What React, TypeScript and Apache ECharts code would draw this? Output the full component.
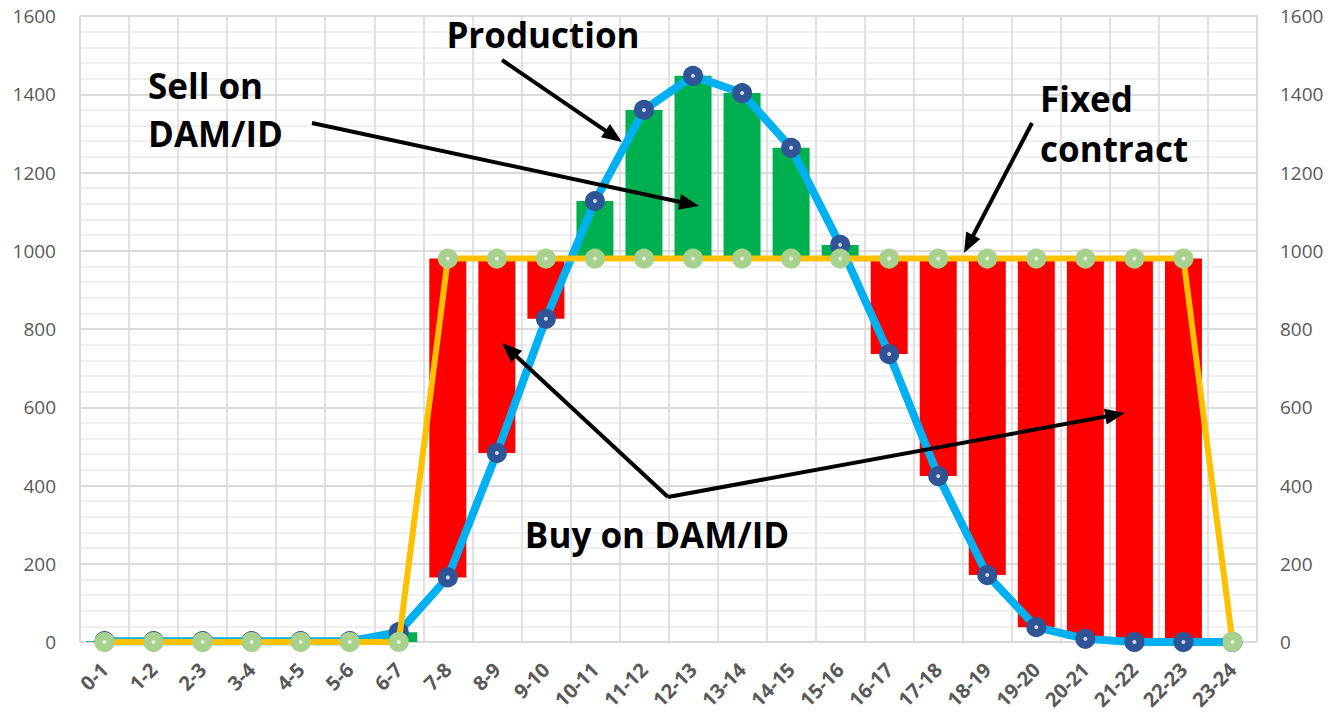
import React, { useEffect, useRef } from "react";
import * as echarts from "echarts";

const hours = [
  "0-1", "1-2", "2-3", "3-4", "4-5", "5-6", "6-7", "7-8", "8-9", "9-10", "10-11", "11-12",
  "12-13", "13-14", "14-15", "15-16", "16-17", "17-18", "18-19", "19-20", "20-21", "21-22", "22-23", "23-24",
];
const production = [2, 2, 2, 2, 2, 2, 25, 165, 483, 826, 1127, 1360, 1447, 1403, 1263, 1015, 736, 424, 171, 38, 8, 0, 0, 0];
const fixedContract = [0, 0, 0, 0, 0, 0, 0, 980, 980, 980, 980, 980, 980, 980, 980, 980, 980, 980, 980, 980, 980, 980, 980, 0];
const yTicks = { min: 0, max: 1600, interval: 200 };

const FONT = "'Open Sans', 'Noto Sans', sans-serif";

function arrow(x1: number, y1: number, x2: number, y2: number) {
  const a = Math.atan2(y2 - y1, x2 - x1);
  const headLen = 20;
  const headW = 8;
  const bx = x2 - headLen * Math.cos(a);
  const by = y2 - headLen * Math.sin(a);
  const px = -Math.sin(a) * headW;
  const py = Math.cos(a) * headW;
  return [
    {
      type: "line",
      shape: { x1, y1, x2: bx + 2 * Math.cos(a), y2: by + 2 * Math.sin(a) },
      style: { stroke: "#000", lineWidth: 4 },
      z: 100,
    },
    {
      type: "polygon",
      shape: { points: [[x2, y2], [bx + px, by + py], [bx - px, by - py]] },
      style: { fill: "#000" },
      z: 100,
    },
  ];
}

function label(text: string, x: number, y: number, align: string = "left") {
  return {
    type: "text",
    x,
    y,
    z: 100,
    style: {
      text,
      fill: "#000",
      font: `bold 35px ${FONT}`,
      textAlign: align,
      textVerticalAlign: "middle",
    },
  };
}

export default function App() {
  const ref = useRef<HTMLDivElement>(null);
  useEffect(() => {
    document.body.style.margin = "0";
    if (!ref.current) return;
    const chart = echarts.init(ref.current, null, { renderer: "svg" });

    const base = production.map((p, i) => Math.min(p, fixedContract[i]));
    const sell = production.map((p, i) => Math.max(p - fixedContract[i], 0));
    const buy = production.map((p, i) => Math.max(fixedContract[i] - p, 0));

    const yAxisCommon = {
      type: "value",
      min: yTicks.min,
      max: yTicks.max,
      interval: yTicks.interval,
      axisLine: { show: true, lineStyle: { color: "#D9D9D9", width: 1.5 } },
      axisTick: { show: false },
      minorTick: { show: false, splitNumber: 5 },
      minorSplitLine: { show: true, lineStyle: { color: "#EEEEEE", width: 1.5 } },
      splitLine: { show: true, lineStyle: { color: "#D9D9D9", width: 1.5 } },
      axisLabel: { color: "#595959", fontSize: 19, fontFamily: FONT, formatter: (v: number) => String(v) },
    };

    const graphic: any[] = [
      label("Production", 543, 34, "center"),
      label("Sell on", 148, 85),
      label("DAM/ID", 148, 133),
      label("Fixed", 1040, 98),
      label("contract", 1040, 148),
      label("Buy on DAM/ID", 657, 534, "center"),
      ...arrow(502, 60, 622, 142),
      ...arrow(312, 123, 699, 206),
      ...arrow(1032, 123, 964, 253),
      ...arrow(668, 497, 502, 343),
      ...arrow(668, 497, 1125, 413),
    ];

    chart.setOption({
      animation: false,
      backgroundColor: "#fff",
      grid: { left: 80, right: 85, top: 16, bottom: 72, containLabel: false },
      xAxis: {
        type: "category",
        data: hours,
        boundaryGap: true,
        axisLine: { show: true, lineStyle: { color: "#D9D9D9", width: 1.5 } },
        axisTick: { show: false },
        splitLine: { show: true, interval: 0, lineStyle: { color: "#D9D9D9", width: 1.5 } },
        axisLabel: {
          interval: 0,
          rotate: 45,
          color: "#595959",
          fontSize: 20,
          fontWeight: "bold",
          fontFamily: FONT,
          margin: 24,
        },
      },
      yAxis: [
        { ...yAxisCommon, position: "left", axisLabel: { ...yAxisCommon.axisLabel, margin: 24 } },
        { ...yAxisCommon, position: "right", axisLabel: { ...yAxisCommon.axisLabel, margin: 23 } },
      ],
      graphic,
      series: [
        {
          name: "base",
          type: "bar",
          stack: "diff",
          data: base,
          barWidth: 37,
          itemStyle: { color: "transparent" },
          silent: true,
        },
        {
          name: "Sell on DAM/ID",
          type: "bar",
          stack: "diff",
          data: sell,
          barWidth: 37,
          itemStyle: { color: "#00B050" },
        },
        {
          name: "Buy on DAM/ID",
          type: "bar",
          stack: "diff",
          data: buy,
          barWidth: 37,
          itemStyle: { color: "#FF0000" },
        },
        {
          name: "Production",
          type: "line",
          data: production,
          lineStyle: { color: "#00B0F0", width: 8 },
          symbol: "circle",
          symbolSize: 12,
          itemStyle: { color: "#D0D8E8", borderColor: "#2F5597", borderWidth: 8 },
          z: 5,
        },
        {
          name: "Fixed contract",
          type: "line",
          data: fixedContract,
          lineStyle: { color: "#FFC000", width: 6 },
          symbol: "circle",
          symbolSize: 12,
          itemStyle: { color: "#E6F0DE", borderColor: "#A9D18E", borderWidth: 8 },
          z: 6,
        },
      ],
    });
    return () => chart.dispose();
  }, []);
  return <div ref={ref} style={{ width: 1342, height: 714 }} />;
}
